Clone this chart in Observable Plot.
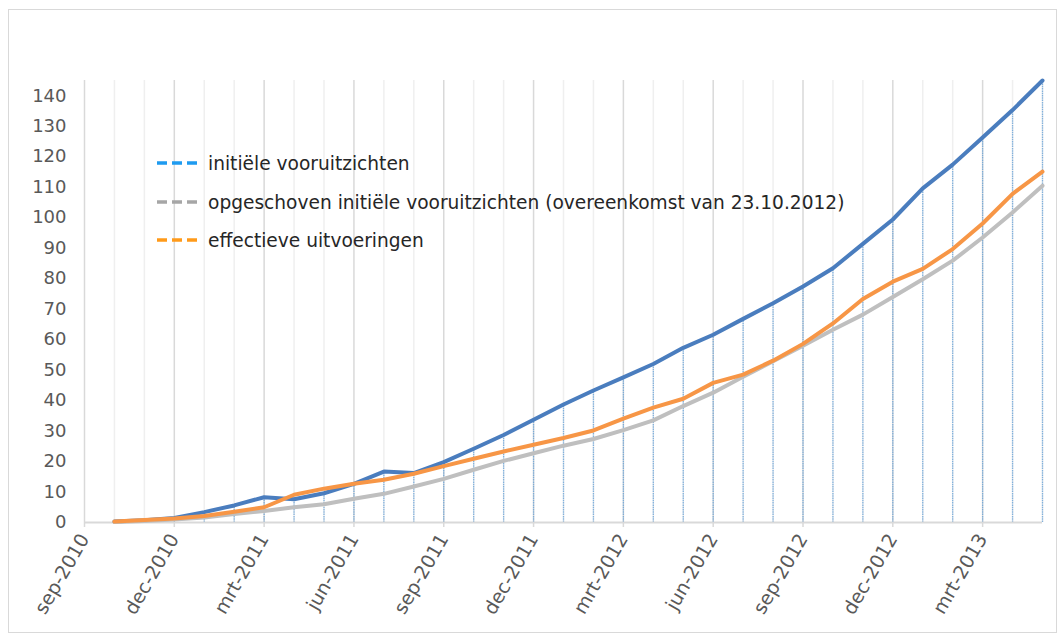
<!DOCTYPE html>
<html><head><meta charset="utf-8">
<script src="https://cdn.jsdelivr.net/npm/d3@7"></script>
<script src="https://cdn.jsdelivr.net/npm/@observablehq/plot@0.6"></script>
<style>
body{margin:0;background:#fff;}
#wrap{position:relative;width:1058px;height:634px;overflow:hidden;font-family:"DejaVu Sans",Verdana,sans-serif;background:#fff;}
#border{position:absolute;left:8px;top:9px;width:1049px;height:624px;border:1.5px solid #d9d9d9;box-sizing:border-box;}
#chart{position:absolute;left:0;top:0;}
.lg{position:absolute;left:157px;height:20px;display:flex;align-items:center;font-size:18.6px;color:#262626;white-space:nowrap;}
.lg svg{margin-right:10px;}
</style></head>
<body>
<div id="wrap">
  <div id="border"></div>
  <div id="chart"></div>
  <div id="legend"></div>
</div>
<script>
// month labels, index 0 = sep-2010
const months = ["sep-2010","okt-2010","nov-2010","dec-2010","jan-2011","feb-2011","mrt-2011","apr-2011","mei-2011","jun-2011","jul-2011","aug-2011","sep-2011","okt-2011","nov-2011","dec-2011","jan-2012","feb-2012","mrt-2012","apr-2012","mei-2012","jun-2012","jul-2012","aug-2012","sep-2012","okt-2012","nov-2012","dec-2012","jan-2013","feb-2013","mrt-2013","apr-2013","mei-2013"];
const tickMonths = ["sep-2010","dec-2010","mrt-2011","jun-2011","sep-2011","dec-2011","mrt-2012","jun-2012","sep-2012","dec-2012","mrt-2013"];
const yTicks = [0,10,20,30,40,50,60,70,80,90,100,110,120,130,140];
// series values from okt-2010 to mei-2013
const initieel = [0.3,0.7,1.5,3.4,5.6,8.3,7.6,9.6,12.7,16.7,16.2,19.8,24.2,28.7,33.7,38.7,43.3,47.6,52.0,57.3,61.6,66.8,71.9,77.4,83.4,91.4,99.4,109.6,117.4,126.3,135.3,145.0];
const opgeschoven = [0.2,0.5,1.0,1.6,2.8,3.8,5.0,6.0,7.8,9.4,11.8,14.3,17.3,20.2,22.7,25.2,27.4,30.3,33.5,38.2,42.6,47.8,52.9,58.0,63.2,68.2,74.0,79.8,85.9,93.5,101.7,110.5];
const effectief = [0.3,0.8,1.3,2.1,3.5,5.0,9.1,11.1,12.7,14.0,16.0,18.5,20.9,23.3,25.5,27.7,30.2,34.1,37.7,40.6,45.8,48.5,53.1,58.6,65.3,73.3,79.0,83.2,89.7,98.1,107.8,115.1];
const seriesNames = ["initiële vooruitzichten","opgeschoven initiële vooruitzichten (overeenkomst van 23.10.2012)","effectieve uitvoeringen"];
const legendColors = ["#1e9bf0","#a6a6a6","#ff9a1a"];

const rows = initieel.map((v,k)=>({i:k+1, month:months[k+1], initieel:v, opgeschoven:opgeschoven[k], effectief:effectief[k]}));
const tickIdx = tickMonths.map(m=>months.indexOf(m));
const minorIdx = months.map((m,i)=>i).filter(i=>!tickIdx.includes(i));

const chart = Plot.plot({
  width:1058, height:634,
  marginLeft:84, marginRight:16, marginTop:80, marginBottom:112,
  style:{fontFamily:"'DejaVu Sans', Verdana, sans-serif", background:"transparent", color:"#595959"},
  x:{type:"linear", domain:[0, months.length-1]},
  y:{domain:[0,145]},
  marks:[
    Plot.ruleX(minorIdx, {stroke:"#efefef", strokeWidth:1.5}),
    Plot.ruleX(tickIdx, {stroke:"#d9d9d9", strokeWidth:1.5}),
    Plot.ruleX(rows, {x:"i", y1:0, y2:"initieel", stroke:"#5b9bd5", strokeWidth:1.3, strokeDasharray:"1.5,0.8", strokeOpacity:0.75}),
    Plot.ruleY([0], {stroke:"#d9d9d9", strokeWidth:2}),
    Plot.axisX(tickIdx, {tickFormat:i=>months[i], tickRotate:-60, tickSize:5, tickPadding:8, stroke:"#d9d9d9", strokeWidth:1.5, fill:"#595959", fontSize:19, label:null}),
    Plot.axisY(yTicks, {tickSize:0, tickPadding:18, fill:"#595959", fontSize:18, label:null}),
    Plot.line(rows, {x:"i", y:"initieel", stroke:"#4a7dbe", strokeWidth:4, strokeLinejoin:"round", strokeLinecap:"round"}),
    Plot.line(rows, {x:"i", y:"opgeschoven", stroke:"#bfbfbf", strokeWidth:4, strokeLinejoin:"round", strokeLinecap:"round"}),
    Plot.line(rows, {x:"i", y:"effectief", stroke:"#f79646", strokeWidth:4, strokeLinejoin:"round", strokeLinecap:"round"})
  ]
});
document.getElementById("chart").appendChild(chart);

const legend = document.getElementById("legend");
const legendTops = [153,192,230];
seriesNames.forEach((name,k)=>{
  const row = document.createElement("div");
  row.className = "lg";
  row.style.top = legendTops[k]+"px";
  row.innerHTML = `<svg width="41" height="6"><line x1="0" y1="3" x2="41" y2="3" stroke="${legendColors[k]}" stroke-width="3.5" stroke-dasharray="10,5"/></svg><span>${name}</span>`;
  legend.appendChild(row);
});
</script>
</body></html>
